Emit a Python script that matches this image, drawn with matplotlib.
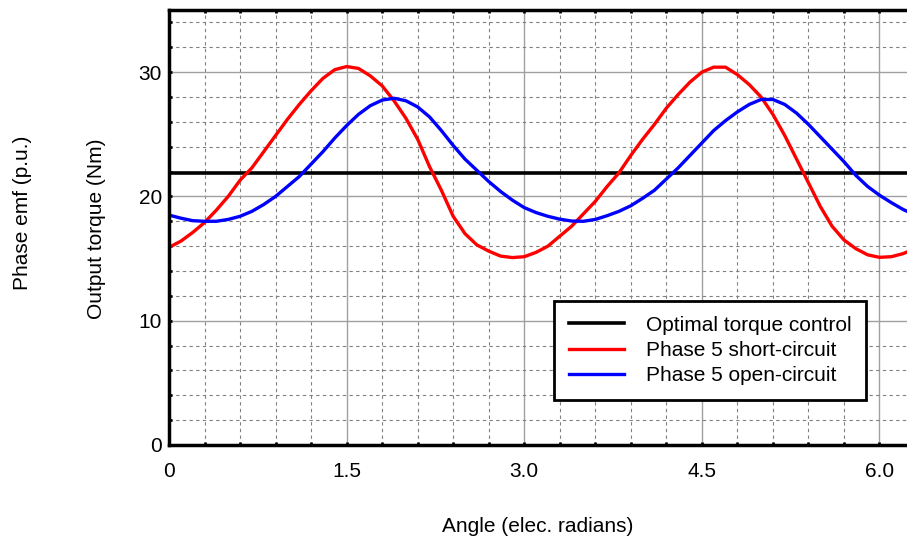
import numpy as np
import matplotlib
matplotlib.use("Agg")
import matplotlib.pyplot as plt
from matplotlib.ticker import MultipleLocator, FixedLocator, FixedFormatter

plt.rcParams['font.family'] = ['Liberation Sans', 'DejaVu Sans']
plt.rcParams['font.size'] = 15

# angle (elec. radians), sampled every 0.1
angle = np.round(np.arange(0.0, 6.31, 0.1), 2)

# optimal torque control (flat)
optimal_torque = 21.85

# phase 5 short-circuit
torque_short = [15.9, 16.4, 17.1, 17.9, 18.9, 20.0, 21.3, 22.3, 23.6, 24.9,
                26.2, 27.4, 28.5, 29.5, 30.2, 30.45, 30.3, 29.7, 28.9, 27.7,
                26.3, 24.6, 22.4, 20.5, 18.4, 17.0, 16.1, 15.6, 15.2, 15.08,
                15.15, 15.5, 16.0, 16.8, 17.6, 18.6, 19.6, 20.8, 21.9, 23.3,
                24.6, 25.8, 27.1, 28.2, 29.2, 30.0, 30.4, 30.4, 29.8, 29.0,
                28.0, 26.6, 24.9, 23.0, 21.1, 19.2, 17.6, 16.5, 15.8, 15.3,
                15.1, 15.15, 15.4, 15.8]

# phase 5 open-circuit
torque_open = [18.5, 18.25, 18.05, 18.0, 18.0, 18.15, 18.4, 18.8, 19.35, 20.0,
               20.8, 21.6, 22.6, 23.6, 24.7, 25.7, 26.6, 27.3, 27.75, 27.9,
               27.7, 27.2, 26.4, 25.3, 24.1, 23.0, 22.1, 21.2, 20.4, 19.7,
               19.1, 18.7, 18.4, 18.17, 18.02, 18.0, 18.15, 18.45, 18.8, 19.25,
               19.85, 20.5, 21.4, 22.3, 23.3, 24.3, 25.3, 26.1, 26.8, 27.4,
               27.8, 27.8, 27.4, 26.7, 25.8, 24.8, 23.8, 22.8, 21.7, 20.8,
               20.1, 19.5, 18.95, 18.5]

xticks = [0, 1.5, 3.0, 4.5, 6.0]
xticklabels = ['0', '1.5', '3.0', '4.5', '6.0']
yticks = [0, 10, 20, 30]

fig = plt.figure(figsize=(9.07, 5.38), dpi=100)
# right spine sits just past the image edge, as in the original
ax = fig.add_axes([169/907, 93/538, 744/907, 435/538])

ax.set_xlim(0, 2*np.pi)
ax.set_ylim(0, 35)

ax.xaxis.set_major_locator(FixedLocator(xticks))
ax.xaxis.set_major_formatter(FixedFormatter(xticklabels))
ax.xaxis.set_minor_locator(MultipleLocator(0.3))
ax.yaxis.set_major_locator(FixedLocator(yticks))
ax.yaxis.set_minor_locator(MultipleLocator(2))

ax.grid(which='major', color='#a0a0a0', linestyle='-', linewidth=1.0)
ax.grid(which='minor', color='#808080', linestyle=(0, (3, 3)), linewidth=0.8)
ax.set_axisbelow(True)

ax.tick_params(which='both', direction='in', length=2.5, width=2, color='black',
               top=True)
ax.tick_params(axis='x', which='major', pad=12)
ax.tick_params(axis='y', which='major', pad=5)

for side in ['left', 'bottom', 'top', 'right']:
    ax.spines[side].set_linewidth(2.5)

ax.axhline(optimal_torque, color='black', lw=2.6, label='Optimal torque control')
ax.plot(angle, torque_short, color='#ff0000', lw=2.4, label='Phase 5 short-circuit')
ax.plot(angle, torque_open, color='#0000ff', lw=2.4, label='Phase 5 open-circuit')

ax.set_xlabel('Angle (elec. radians)', va='center')
ax.xaxis.set_label_coords(0.496, -0.188)
ax.set_ylabel('Output torque (Nm)', va='center')
ax.yaxis.set_label_coords(-0.0968, 0.497)
fig.text(23/907, 1 - 213/538, 'Phase emf (p.u.)', rotation=90,
         ha='center', va='center')

leg = ax.legend(loc='upper left', bbox_to_anchor=(0.5175, 0.331),
                borderaxespad=0, fancybox=False, framealpha=1,
                edgecolor='black', handlelength=2.65, handletextpad=1.05,
                labelspacing=0.3, borderpad=0.7)
leg.get_frame().set_linewidth(2)

fig.savefig('out.png', dpi=100)
